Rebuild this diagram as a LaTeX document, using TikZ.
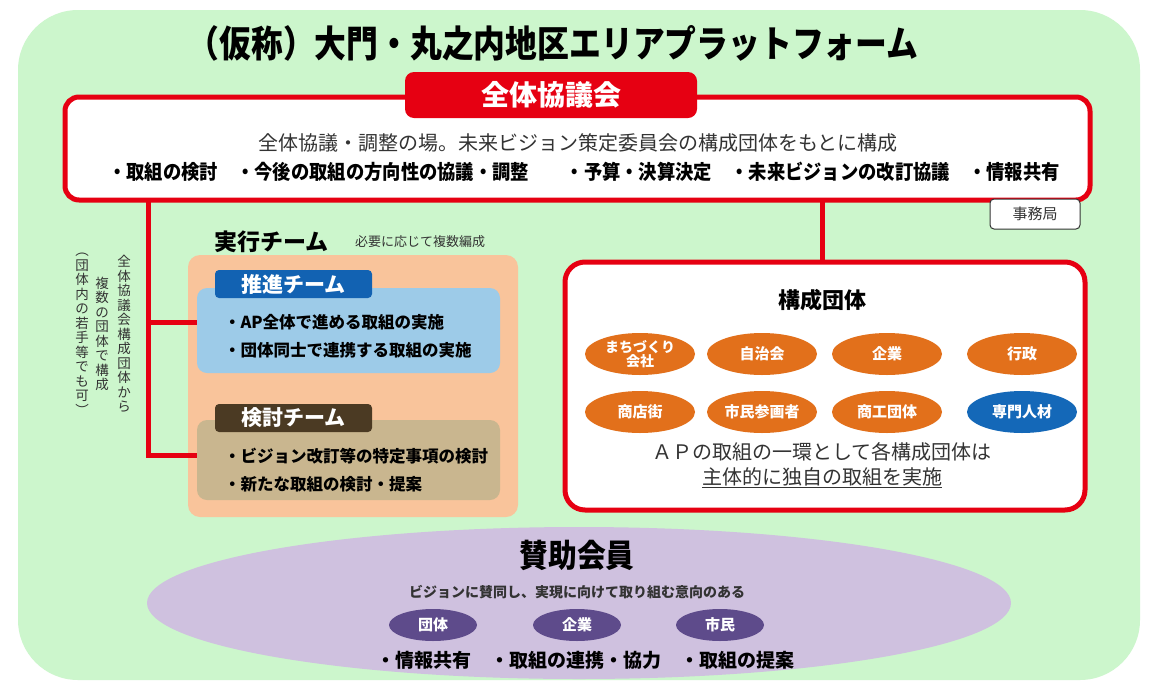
\documentclass[tikz,border=0pt]{standalone}
\usepackage{fontspec}
\usepackage{graphicx}
\setmainfont{Noto Sans CJK JP}
\usetikzlibrary{shapes.geometric}
\newcommand{\sx}[2]{\scalebox{#1}[1]{#2}}
\newcommand{\fs}[1]{\fontsize{#1}{#1}\selectfont}
\newcommand{\fsl}[2]{\fontsize{#1}{#2}\selectfont}
\definecolor{bggreen}{HTML}{CCF6CC}
\definecolor{apred}{HTML}{E60012}
\definecolor{peach}{HTML}{F9C49B}
\definecolor{ltblue}{HTML}{9DCBE8}
\definecolor{tabblue}{HTML}{1262B2}
\definecolor{tan}{HTML}{C9B68F}
\definecolor{tabbrown}{HTML}{4B3A23}
\definecolor{orgell}{HTML}{E2701B}
\definecolor{blueell}{HTML}{1468B8}
\definecolor{lav}{HTML}{CFC1DF}
\definecolor{dkpurple}{HTML}{5E4B8B}
\definecolor{txtgray}{HTML}{333333}
\begin{document}
\begin{tikzpicture}[x=1pt,y=-1pt,
  every node/.style={inner sep=0pt, outer sep=0pt},
  panel/.style={fill=bggreen, rounded corners=60pt},
  redbox/.style={draw=apred, line width=5pt, fill=white, rounded corners=14pt},
  redtab/.style={fill=apred, rounded corners=9pt, text=white, font=\bfseries\fs{28}},
  redline/.style={draw=apred, line width=5pt},
  smallbox/.style={draw=txtgray, line width=1pt, fill=white, rounded corners=4pt, text=txtgray, font=\fs{15}},
  peachbox/.style={fill=peach, rounded corners=12pt},
  teambox/.style={rounded corners=10pt},
  teamtab/.style={rounded corners=4pt, text=white, font=\bfseries\fs{21}},
  teamtext/.style={anchor=west, font=\bfseries\fs{16.5}, text=black},
  vtext/.style={align=center, font=\fsl{13.5}{14.5}, text=txtgray},
  oell/.style={ellipse, fill=orgell, minimum width=110pt, minimum height=42pt, text=white, font=\bfseries\fs{15}, align=center},
  pell/.style={ellipse, fill=dkpurple, minimum width=88pt, minimum height=32pt, text=white, font=\bfseries\fs{15}}
]
\useasboundingbox (0,0) rectangle (1149,683);
\fill[white] (0,0) rectangle (1149,683);
% background panel
\node[panel, minimum width=1122pt, minimum height=670pt] (bg) at (579,345) {};
% title
\node[font=\bfseries\fs{37}] (title) at (553,43) {\sx{0.86}{（仮称）大門・丸之内地区エリアプラットフォーム}};
% main council box
\node[redbox, minimum width=1025pt, minimum height=103pt] (main) at (577.5,148.5) {};
\node[redtab, minimum width=292pt, minimum height=46pt] (tab) at (551,95) {全体協議会};
\node[font=\fs{20}, text=txtgray] (m1) at (578,143) {全体協議・調整の場。未来ビジョン策定委員会の構成団体をもとに構成};
\node[font=\bfseries\fs{20}] (m2) at (584,172) {\sx{0.915}{・取組の検討　・今後の取組の方向性の協議・調整　　・予算・決算決定　・未来ビジョンの改訂協議　・情報共有}};
% secretariat
\node[smallbox, minimum width=90pt, minimum height=30pt] (jimu) at (1035,214) {事務局};
% executive team
\node[font=\bfseries\fs{23}, anchor=west] (jikko) at (214,242) {実行チーム};
\node[font=\fs{13}, text=txtgray, anchor=west] (hitsuyo) at (355,242) {必要に応じて複数編成};
\node[peachbox, minimum width=330pt, minimum height=262pt] (peach) at (353,386) {};
% promotion team
\node[teambox, fill=ltblue, minimum width=303pt, minimum height=85pt] (suishin) at (348.5,330.5) {};
\node[teamtab, fill=tabblue, minimum width=157pt, minimum height=28pt] (suishintab) at (293.5,284) {推進チーム};
\node[teamtext] (s1) at (224,322) {・AP全体で進める取組の実施};
\node[teamtext] (s2) at (224,350) {・団体同士で連携する取組の実施};
% study team
\node[teambox, fill=tan, minimum width=303pt, minimum height=80pt] (kento) at (348.5,460) {};
\node[teamtab, fill=tabbrown, minimum width=157pt, minimum height=28pt] (kentotab) at (293.5,418) {検討チーム};
\node[teamtext] (k1) at (224,456) {・ビジョン改訂等の特定事項の検討};
\node[teamtext] (k2) at (224,484) {・新たな取組の検討・提案};
% connectors left
\coordinate (b1) at (148,322);
\coordinate (b2) at (148,455);
\draw[redline] (main.south -| b2) -- (b2) -- (b2 -| kento.west);
\draw[redline] (b1) -- (b1 -| suishin.west);
% vertical text
\node[vtext] (v1) at (124,334) {全\\体\\協\\議\\会\\構\\成\\団\\体\\か\\ら};
\node[vtext] (v2) at (102,334) {複\\数\\の\\団\\体\\で\\構\\成};
\node[vtext] (v3) at (82,334) {︵\\団\\体\\内\\の\\若\\手\\等\\で\\も\\可\\︶};
% member organisations
\node[redbox, rounded corners=20pt, minimum width=520pt, minimum height=248pt] (kosei) at (825,386) {};
\coordinate (kx) at (822,0);
\draw[redline] (main.south -| kx) -- (kosei.north -| kx);
\node[font=\bfseries\fs{22}] (koseititle) at (822,300) {構成団体};
\node[oell] (o1) at (640,354) {\fs{14}まちづくり\\[-1pt]\fs{14}会社};
\node[oell] (o2) at (762,354) {自治会};
\node[oell] (o3) at (887,354) {企業};
\node[oell] (o4) at (1022,354) {行政};
\node[oell] (o5) at (640,412) {商店街};
\node[oell] (o6) at (762,412) {市民参画者};
\node[oell] (o7) at (887,412) {商工団体};
\node[oell, fill=blueell] (o8) at (1022,412) {専門人材};
\node[font=\fs{20}, text=txtgray] (ap1) at (822,452) {ＡＰの取組の一環として各構成団体は};
\node[font=\fs{20}, text=txtgray] (ap2) at (822,478) {\underline{主体的に独自の取組を実施}};
% supporting members
\node[ellipse, fill=lav, minimum width=864pt, minimum height=152pt] (sanjo) at (579,603) {};
\node[font=\bfseries\fs{32}] (sanjotitle) at (577,555) {\sx{0.9}{賛助会員}};
\node[font=\bfseries\fs{14}, text=txtgray] (sanjosub) at (577,592) {ビジョンに賛同し、実現に向けて取り組む意向のある};
\node[pell] (p1) at (433,625) {団体};
\node[pell] (p2) at (577,625) {企業};
\node[pell] (p3) at (720,625) {市民};
\node[font=\bfseries\fs{19}] (sanjobottom) at (585,660) {・情報共有　・取組の連携・協力　・取組の提案};
\end{tikzpicture}
\end{document}
